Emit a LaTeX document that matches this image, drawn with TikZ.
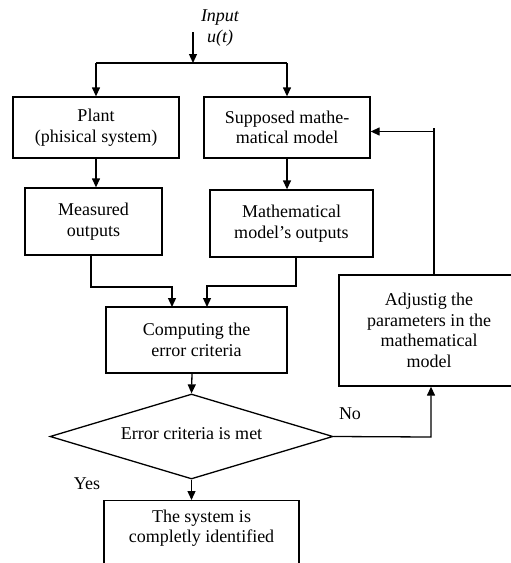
\documentclass[tikz,border=0pt]{standalone}
\usepackage{fontspec}
\setmainfont{Liberation Serif}
\usetikzlibrary{arrows.meta,shapes.geometric}
\tikzset{
  x=1pt, y=-1pt,
  every node/.style={font=\fontsize{18}{20.5}\selectfont, align=center, inner sep=0pt},
  box/.style={draw, line width=1.3pt, rectangle},
  line/.style={draw, line width=1.3pt},
  arr/.style={line, -{Triangle[length=9pt,width=8pt]}},
}
\begin{document}
\begin{tikzpicture}
\clip (0,0) rectangle (511,563);
\fill[white] (0,0) rectangle (511,563);

\node (inp) at (220,28) {\itshape Input\\[0.5pt]\itshape u(t)};
\coordinate (intop) at (193,32);
\coordinate (split) at (193,63);

\node[box, minimum width=166pt, minimum height=61pt] (plant) at (96,127.5) {Plant\\(phisical system)};
\node[box, minimum width=166pt, minimum height=61pt] (sup) at (287,127.5) {Supposed mathe-\\matical model};
\node[box, minimum width=137pt, minimum height=67pt] (meas) at (93.5,221.5) {Measured\\outputs};
\node[box, minimum width=163pt, minimum height=67pt] (mout) at (291.5,223.5) {Mathematical\\model’s outputs};
\node[box, minimum width=181pt, minimum height=66pt] (comp) at (196.5,340) {Computing the\\error criteria};
\node[box, minimum width=180pt, minimum height=111pt] (adj) at (429,330.5) {Adjustig the\\parameters in the\\mathematical\\model};
\node[draw, line width=1.3pt, diamond, minimum width=283pt, minimum height=85pt, aspect=3.33] (dec) at (191.5,436.5) {};
\node (dectxt) at (191.5,434) {Error criteria is met};
\node[box, anchor=north, minimum width=195pt, minimum height=100pt] (fin) at (201.5,500) {};
\node (fintxt) at (201.5,528) {The system is\\completly identified};

\node (no) at (350,414) {No};
\node (yes) at (87,484) {Yes};

% input
\draw[arr] (intop) -- (split);
\draw[line] (plant.north |- split) -- (sup.north |- split);
\draw[arr] (plant.north |- split) -- (plant.north);
\draw[arr] (sup.north |- split) -- (sup.north);

% down
\draw[arr] (plant.south) -- (plant.south |- meas.north);
\draw[arr] (sup.south) -- (sup.south |- mout.north);

% to computing
\coordinate (cl) at (172,307);
\coordinate (cr) at (207,307);
\draw[arr] (meas.south -| 91,0) |- (172,287) -- (cl);
\draw[arr] (mout.south -| 296,0) |- (207,286) -- (cr);

% computing to decision
\draw[arr] (comp.south -| 192,0) -- (dec.north);
\draw[arr] (dec.south) -- (fin.north -| dec.south);

% No branch
\coordinate (nocorner) at (431,437);
\draw[arr] (dec.east) -- (nocorner) -- (adj.south -| nocorner);

% feedback
\coordinate (fbtop) at (434,128);
\coordinate (fbarr) at (434,131.5);
\draw[line] (adj.north -| fbtop) -- (fbtop);
\draw[arr] (fbarr) -- (sup.east |- fbarr);
\end{tikzpicture}
\end{document}
